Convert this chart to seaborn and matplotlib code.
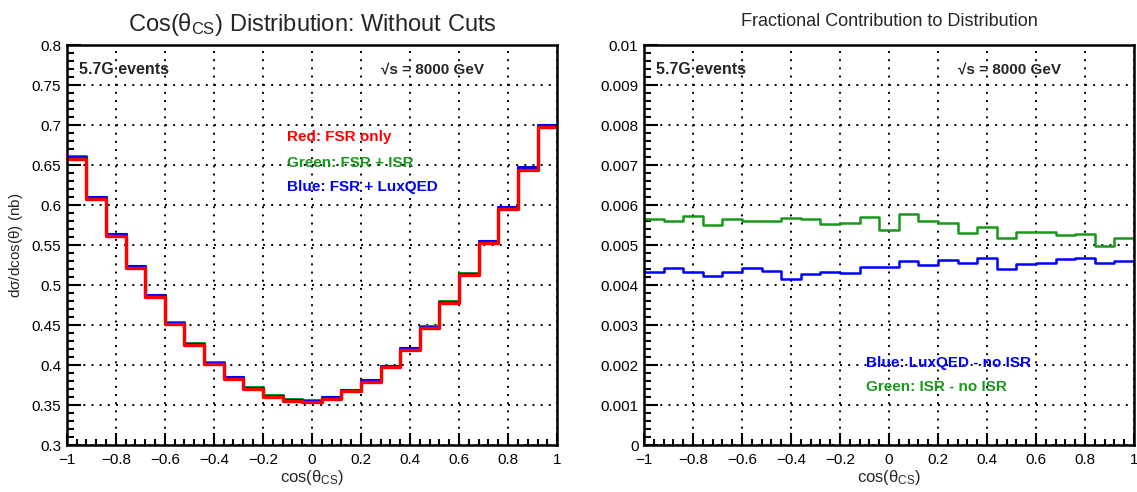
import numpy as np
import pandas as pd
import matplotlib
matplotlib.use("Agg")
import matplotlib.pyplot as plt
from matplotlib.ticker import MultipleLocator, FuncFormatter
import seaborn as sns

# 25 bins of cos(theta_CS) between -1 and 1
N_BINS = 25
bin_edges = np.linspace(-1.0, 1.0, N_BINS + 1)
bin_centers = 0.5 * (bin_edges[:-1] + bin_edges[1:])

# d(sigma)/dcos(theta) in nb, FSR only
fsr_only = [0.657, 0.607, 0.561, 0.521, 0.485, 0.451, 0.425, 0.401, 0.383,
            0.370, 0.360, 0.355, 0.354, 0.358, 0.367, 0.379, 0.397, 0.419,
            0.446, 0.477, 0.512, 0.552, 0.595, 0.644, 0.697]

# fractional contributions relative to the FSR-only distribution
frac_luxqed = [0.00433, 0.00442, 0.00432, 0.00423, 0.00432, 0.00443, 0.00434,
               0.00415, 0.00428, 0.00433, 0.00431, 0.00446, 0.00444, 0.00460,
               0.00450, 0.00463, 0.00455, 0.00467, 0.00440, 0.00452, 0.00454,
               0.00464, 0.00467, 0.00455, 0.00461]
frac_isr = [0.00565, 0.00561, 0.00573, 0.00550, 0.00565, 0.00561, 0.00559,
            0.00568, 0.00564, 0.00552, 0.00556, 0.00569, 0.00538, 0.00578,
            0.00560, 0.00554, 0.00531, 0.00546, 0.00517, 0.00532, 0.00532,
            0.00526, 0.00528, 0.00498, 0.00518]

fsr_isr = np.array(fsr_only) * (1 + np.array(frac_isr))
fsr_luxqed = np.array(fsr_only) * (1 + np.array(frac_luxqed))

RED = "#ff0000"
BLUE = "#0000ff"
GREEN = "#18981a"

sns.set_style("ticks")
FONT = ["Liberation Sans Narrow", "Liberation Sans", "DejaVu Sans"]
plt.rcParams["font.family"] = FONT
plt.rcParams["mathtext.fontset"] = "custom"
plt.rcParams["mathtext.rm"] = "Liberation Sans"
plt.rcParams["mathtext.it"] = "Liberation Sans"
plt.rcParams["mathtext.bf"] = "Liberation Sans:bold"

fig = plt.figure(figsize=(11.37, 4.92), dpi=100)
ax_l = fig.add_axes([0.0587, 0.0955, 0.4313, 0.813])
ax_r = fig.add_axes([0.5664, 0.0955, 0.4310, 0.813])


def label_fmt(v, pos):
    if abs(v) < 1e-12:
        return "0"
    return f"{v:g}".replace("-", "\u2212")


def style_axes(ax, ymajor, yminor):
    ax.set_xlim(-1, 1)
    ax.xaxis.set_major_locator(MultipleLocator(0.2))
    ax.xaxis.set_minor_locator(MultipleLocator(0.04))
    ax.yaxis.set_major_locator(MultipleLocator(ymajor))
    ax.yaxis.set_minor_locator(MultipleLocator(yminor))
    ax.xaxis.set_major_formatter(FuncFormatter(label_fmt))
    ax.yaxis.set_major_formatter(FuncFormatter(label_fmt))
    ax.tick_params(axis="both", which="both", direction="in", top=False,
                   right=False, colors="black", width=1.5, labelsize=11)
    ax.tick_params(axis="x", which="major", length=9, pad=5.5)
    ax.tick_params(axis="x", which="minor", length=4.5)
    ax.tick_params(axis="y", which="major", length=10, pad=4)
    ax.tick_params(axis="y", which="minor", length=5)
    ax.grid(True, which="major", color="black", linestyle=(0, (1, 3.2)),
            linewidth=1.4)
    for sp in ax.spines.values():
        sp.set_visible(True)
        sp.set_color("black")
        sp.set_linewidth(1.8)
    ax.set_xlabel(r"cos($\theta_{\mathrm{CS}}$)", fontsize=12, labelpad=1)


def draw_hist(ax, vals, col, lw):
    df = pd.DataFrame({"cos_cs": bin_centers, "value": np.asarray(vals)})
    sns.histplot(data=df, x="cos_cs", weights="value", bins=N_BINS,
                 binrange=(-1.0, 1.0), element="step", fill=False,
                 color=col, linewidth=lw, ax=ax)


# ---- left: the distributions ----
for vals, col, lw in [(fsr_isr, GREEN, 2.2), (fsr_luxqed, BLUE, 2.2),
                      (fsr_only, RED, 2.4)]:
    draw_hist(ax_l, vals, col, lw)
style_axes(ax_l, 0.05, 0.01)
ax_l.set_ylim(0.3, 0.8)
ax_l.set_ylabel(r"d$\sigma$/dcos($\theta$) (nb)", fontsize=11, labelpad=5)
ax_l.set_title(r"Cos($\theta_{\mathrm{CS}}$) Distribution: Without Cuts",
               fontsize=17, pad=10)

# ---- right: fractional contributions ----
for vals, col in [(frac_isr, GREEN), (frac_luxqed, BLUE)]:
    draw_hist(ax_r, vals, col, 1.8)
style_axes(ax_r, 0.001, 0.0002)
ax_r.set_ylim(0, 0.01)
ax_r.set_ylabel("")
ax_r.set_title("Fractional Contribution to Distribution", fontsize=13, pad=14)

# annotations
for ax in (ax_l, ax_r):
    ylo, yhi = ax.get_ylim()
    ytxt = ylo + 0.94 * (yhi - ylo)
    ax.text(-0.95, ytxt, "5.7G events", fontsize=11.5, fontweight="bold",
            ha="left", va="center")
    ax.text(0.28, ytxt, "\u221as = 8000 GeV", fontsize=11, fontweight="bold",
            ha="left", va="center")

ax_l.text(-0.1, 0.685, "Red: FSR only", color=RED, fontsize=11,
          fontweight="bold", ha="left", va="center")
ax_l.text(-0.1, 0.653, "Green: FSR + ISR", color=GREEN, fontsize=11,
          fontweight="bold", ha="left", va="center")
ax_l.text(-0.1, 0.622, "Blue: FSR + LuxQED", color=BLUE, fontsize=11,
          fontweight="bold", ha="left", va="center")

ax_r.text(-0.095, 0.00206, "Blue: LuxQED - no ISR", color=BLUE, fontsize=11,
          fontweight="bold", ha="left", va="center")
ax_r.text(-0.095, 0.00145, "Green: ISR - no ISR", color=GREEN, fontsize=11,
          fontweight="bold", ha="left", va="center")

fig.savefig("out.png", dpi=100, facecolor="white")
